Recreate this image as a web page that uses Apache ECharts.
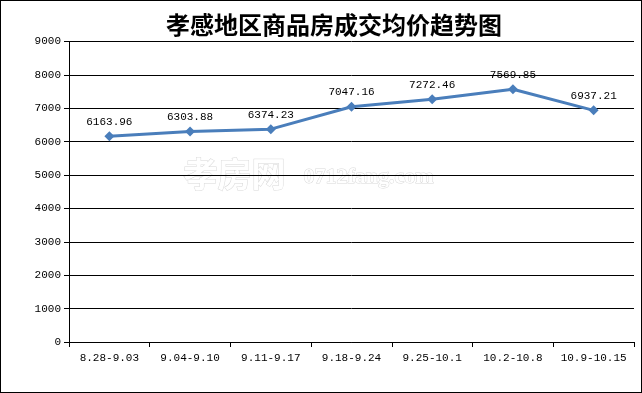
<!DOCTYPE html>
<html><head><meta charset="utf-8">
<script src="https://cdn.jsdelivr.net/npm/echarts@6/dist/echarts.min.js"></script>
<style>html,body{margin:0;padding:0;background:#fff}#c{width:640px;height:391px;border:1px solid #000}</style>
</head><body><div id="c"></div>
<script>
const categories = ['8.28-9.03','9.04-9.10','9.11-9.17','9.18-9.24','9.25-10.1','10.2-10.8','10.9-10.15'];
const prices = [6163.96, 6303.88, 6374.23, 7047.16, 7272.46, 7569.85, 6937.21];
const yTicks = {min: 0, max: 9000, interval: 1000};
const chart = echarts.init(document.getElementById('c'));
const mono = '"Liberation Mono", "DejaVu Sans Mono", monospace';
chart.setOption({
  animation: false,
  title: {text: '孝感地区商品房成交均价趋势图', left: 160, top: 7,
    textStyle: {fontFamily: '"Noto Sans CJK SC"', fontWeight: 'bold', fontSize: 24, color: '#000'}},
  grid: {left: 68, right: 7, top: 40.5, bottom: 50, containLabel: false},
  graphic: [{type: 'text', left: 182, top: 156, silent: true, z: 0,
    style: {text: '孝房网', font: 'bold 34px "Noto Sans CJK SC"', fill: '#fff', stroke: '#d8d8d8', lineWidth: 1}},
    {type: 'text', left: 302, top: 165, silent: true, z: 0,
    style: {text: '0712fang.com', font: 'bold 22px "Liberation Serif"', fill: '#fff', stroke: '#d8d8d8', lineWidth: 1}}],
  xAxis: {type: 'category', data: categories, boundaryGap: true,
    axisLine: {lineStyle: {color: '#000', width: 1}},
    axisTick: {show: true, alignWithLabel: false, length: 5, lineStyle: {color: '#000'}},
    axisLabel: {color: '#000', fontFamily: mono, fontSize: 11, margin: 11, interval: 0}},
  yAxis: {type: 'value', min: yTicks.min, max: yTicks.max, interval: yTicks.interval,
    axisLine: {show: true, lineStyle: {color: '#000'}},
    axisTick: {show: true, length: 5, lineStyle: {color: '#000'}},
    splitLine: {lineStyle: {color: '#000', width: 1}},
    axisLabel: {color: '#000', fontFamily: mono, fontSize: 11, margin: 8, formatter: v => String(v)}},
  series: [{type: 'line', data: prices, symbol: 'diamond', symbolSize: 10,
    lineStyle: {color: '#4a7ebb', width: 3}, itemStyle: {color: '#4a7ebb'},
    label: {show: true, position: 'top', distance: 4, color: '#000', fontFamily: mono, fontSize: 11,
      formatter: p => p.value.toFixed(2)}}]
});
</script></body></html>
